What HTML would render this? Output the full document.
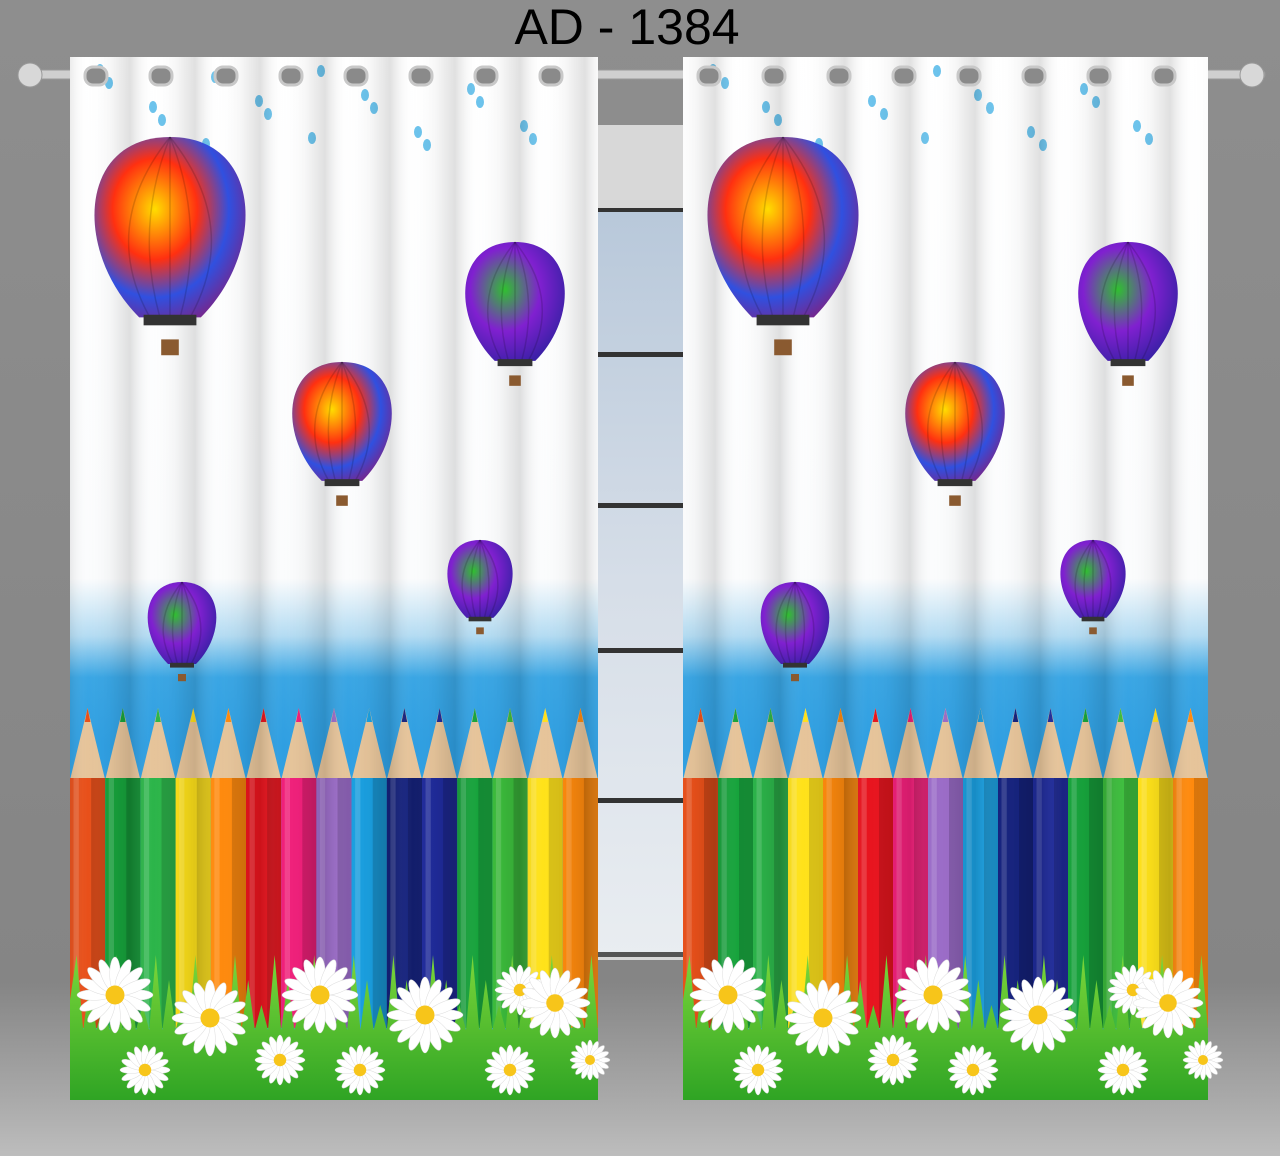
<!DOCTYPE html>
<html><head><meta charset="utf-8">
<style>
html,body{margin:0;padding:0}
body{width:1280px;height:1156px;position:relative;overflow:hidden;background:linear-gradient(#8e8e8e,#858585 85%,#a9a9a9 95%,#bdbdbd);font-family:"Liberation Sans",sans-serif}
#title{position:absolute;left:0;width:1254px;top:-1px;text-align:center;font-size:50px;color:#000;line-height:56px}
svg{position:absolute;left:0;top:0}
</style></head><body>
<div id="title">AD - 1384</div>
<svg id="s" width="1280" height="1156">
<defs>
<linearGradient id="sky" x1="0" y1="0" x2="0" y2="1">
<stop offset="0" stop-color="#fff"/><stop offset="0.5" stop-color="#fbfcfd"/><stop offset="0.555" stop-color="#b4dcf3"/><stop offset="0.595" stop-color="#3aa6e4"/><stop offset="0.66" stop-color="#2f9fe2"/><stop offset="1" stop-color="#39a7e6"/></linearGradient>
<linearGradient id="fold" x1="0" y1="0" x2="1" y2="0" spreadMethod="repeat">
<stop offset="0" stop-color="#000" stop-opacity="0.12"/><stop offset="0.35" stop-color="#fff" stop-opacity="0"/><stop offset="0.7" stop-color="#000" stop-opacity="0.03"/><stop offset="1" stop-color="#000" stop-opacity="0.12"/></linearGradient>
<pattern id="folds" width="65" height="10" patternUnits="userSpaceOnUse"><rect width="65" height="10" fill="url(#fold)"/></pattern>
<linearGradient id="win" x1="0" y1="0" x2="0" y2="1"><stop offset="0" stop-color="#b8c8da"/><stop offset="0.5" stop-color="#d6dee8"/><stop offset="1" stop-color="#e9edf1"/></linearGradient>
<radialGradient id="bal1" cx="0.4" cy="0.4" r="0.7"><stop offset="0" stop-color="#ffdd00"/><stop offset="0.4" stop-color="#ff3010"/><stop offset="0.7" stop-color="#3050e0"/><stop offset="1" stop-color="#802080"/></radialGradient>
<radialGradient id="bal2" cx="0.4" cy="0.4" r="0.7"><stop offset="0" stop-color="#30c030"/><stop offset="0.5" stop-color="#8020d0"/><stop offset="1" stop-color="#3020a0"/></radialGradient>
<linearGradient id="grass" x1="0" y1="0" x2="0" y2="1"><stop offset="0" stop-color="#7bd63a"/><stop offset="1" stop-color="#2fa424"/></linearGradient>
</defs>
<g id="window">
<rect x="590" y="125" width="100" height="835" fill="#d8d8d8"/>
<rect x="595" y="210" width="90" height="745" fill="url(#win)"/>
<rect x="593" y="208" width="94" height="4" fill="#333"/>
<rect x="593" y="352" width="94" height="5" fill="#333"/>
<rect x="593" y="503" width="94" height="5" fill="#333"/>
<rect x="593" y="648" width="94" height="5" fill="#333"/>
<rect x="593" y="798" width="94" height="5" fill="#333"/>
<rect x="593" y="952" width="94" height="5" fill="#555"/>
<rect x="593" y="208" width="3" height="750" fill="#444"/>
<rect x="684" y="208" width="3" height="750" fill="#444"/>
</g>
<g id="rod">
<rect x="25" y="70" width="1240" height="9" rx="4" fill="#cfcfcf" stroke="#999"/>
<circle cx="30" cy="75" r="12" fill="#d8d8d8" stroke="#999"/>
<circle cx="1252" cy="75" r="12" fill="#d8d8d8" stroke="#999"/>
</g>
<g id="curtains"></g>
</svg>
<script>
const pencilColorsLeft=["#e8501a","#17a33c","#2cb54a","#ffe21a","#ff8a0d","#e8141e","#f0207a","#9b6cc8","#1a9fe0","#16237e","#1f2b9a","#17a33c","#3cbd3c","#ffe21a","#ff8a0d"];
const pencilColorsRight=["#e8501a","#17a33c","#2cb54a","#ffe21a","#ff8a0d","#e8141e","#f0207a","#9b6cc8","#1a9fe0","#16237e","#1f2b9a","#17a33c","#3cbd3c","#ffe21a","#ff8a0d"];
const NS="http://www.w3.org/2000/svg";
const root=document.getElementById('curtains');
function mk(tag,attrs,parent){const e=document.createElementNS(NS,tag);for(const k in attrs)e.setAttribute(k,attrs[k]);parent.appendChild(e);return e;}
function curtain(x0,x1,colors,name){
 const g=mk('g',{},root);
 
 
 mk('rect',{x:x0,y:57,width:x1-x0,height:1043,fill:'url(#sky)'},g);
 for(let i=0;i<18;i++){const dx=x0+30+((i*53)%(x1-x0-60));const dy=70+((i*37)%80);mk('ellipse',{cx:dx,cy:dy,rx:4,ry:6,fill:'#6cc3ec'},g);}
 const w=(x1-x0)/colors.length;
 const pg=mk('g',{},g);
 
 
 colors.forEach((c,i)=>{
  const px=x0+i*w;
  const p=mk('g',{},pg);
  
  
  mk('polygon',{points:`${px},780 ${px+w/2},708 ${px+w},780`,fill:'#e6c49a'},p);
  mk('polygon',{points:`${px+w*0.42},722 ${px+w/2},708 ${px+w*0.58},722`,fill:c},p);
  mk('rect',{x:px,y:778,width:w,height:250,fill:c},p);
  mk('rect',{x:px+w*0.6,y:778,width:w*0.4,height:250,fill:'#000',opacity:0.15},p);
  mk('rect',{x:px+w*0.1,y:778,width:w*0.15,height:250,fill:'#fff',opacity:0.15},p);
 });
 mk('rect',{x:x0,y:57,width:x1-x0,height:1043,fill:'url(#folds)'},g);
 const gr=mk('g',{},g);
 
 
 mk('path',{d:`M${x0},1100 L${x0},1000 `+Array.from({length:40},(_,k)=>`L${x0+(k+0.5)*(x1-x0)/40},${955+(k%3)*25} L${x0+(k+1)*(x1-x0)/40},1030`).join(' ')+` L${x1},1100 Z`,fill:'url(#grass)'},gr);
 const fl=[[45,995,38],[140,1018,38],[250,995,38],[355,1015,38],[450,990,25],[485,1003,35],[75,1070,25],[210,1060,25],[290,1070,25],[440,1070,25],[520,1060,20]];
 fl.forEach(([fx,fy,r])=>{const f=mk('g',{},gr);
  for(let a=0;a<16;a++){const t=a*Math.PI/8;mk('ellipse',{cx:x0+fx+Math.cos(t)*r*0.55,cy:fy+Math.sin(t)*r*0.55,rx:r*0.45,ry:r*0.14,transform:`rotate(${a*22.5} ${x0+fx+Math.cos(t)*r*0.55} ${fy+Math.sin(t)*r*0.55})`,fill:'#fff',stroke:'#ddd','stroke-width':0.5},f);}
  mk('circle',{cx:x0+fx,cy:fy,r:r*0.25,fill:'#f7c51a'},f);});
 const bl=[[100,225,88,'bal1'],[445,300,58,'bal2'],[272,420,58,'bal1'],[410,578,38,'bal2'],[112,622,40,'bal2']];
 bl.forEach(([bx,by,r,fillId])=>{const b=mk('g',{},g);
  const d=`M${x0+bx-r*0.35},${by+r*1.05} C${x0+bx-r*1.1},${by+r*0.3} ${x0+bx-r*1.05},${by-r} ${x0+bx},${by-r} C${x0+bx+r*1.05},${by-r} ${x0+bx+r*1.1},${by+r*0.3} ${x0+bx+r*0.35},${by+r*1.05} Z`;
  mk('path',{d:d,fill:`url(#${fillId})`},b);
  for(let k=-2;k<=2;k++){mk('path',{d:`M${x0+bx},${by-r} Q${x0+bx+k*r*0.4},${by} ${x0+bx+k*r*0.12},${by+r*1.03}`,fill:'none',stroke:'#000','stroke-opacity':0.15,'stroke-width':1.5},b);}
  mk('rect',{x:x0+bx-r*0.3,y:by+r*1.02,width:r*0.6,height:r*0.12,fill:'#333'},b);
  mk('rect',{x:x0+bx-r*0.1,y:by+r*1.3,width:r*0.2,height:r*0.18,fill:'#8a5a30'},b);});
 for(let gx=x0+15;gx<x1;gx+=65){const gm=mk('g',{},g);
  mk('rect',{x:gx,y:67,width:22,height:18,rx:8,fill:'#8a8a8a',stroke:'#c8c8c8','stroke-width':3},gm);}
}
curtain(70,598,pencilColorsLeft,'left-curtain-panel');
curtain(683,1208,pencilColorsRight,'right-curtain-panel');
</script>
</body></html>
